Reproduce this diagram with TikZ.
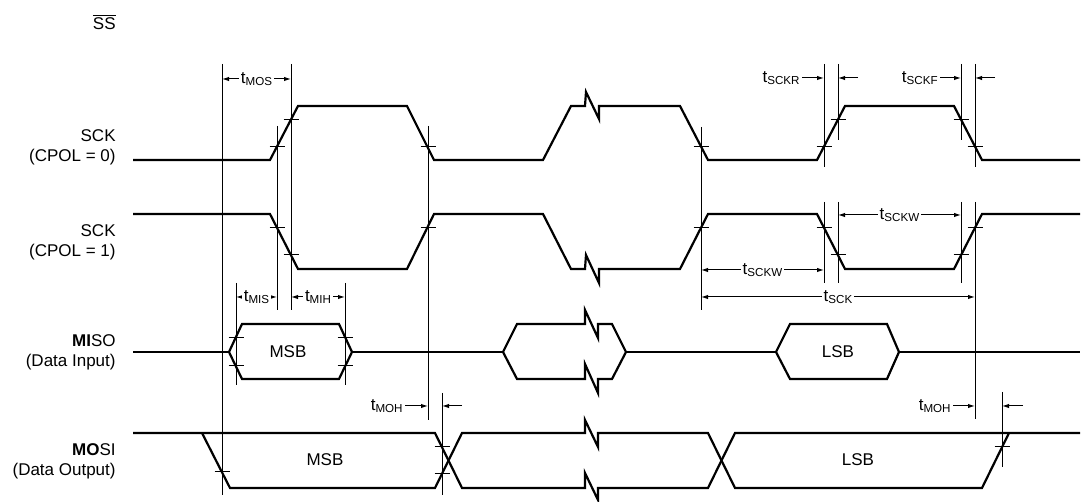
\documentclass[tikz,border=0pt]{standalone}
\usepackage{fontspec}
\setmainfont{Liberation Sans}
\usepackage{tikz}
\usetikzlibrary{positioning,arrows.meta}

\newcommand{\tsub}[1]{t\raisebox{-1.2pt}{\fontsize{5.8}{6}\selectfont #1}}

\begin{document}
\begin{tikzpicture}[
  x=0.5pt, y=-0.5pt,
  wave/.style={line width=1.1pt, line join=miter},
  guide/.style={line width=0.5pt},
  tick/.style={line width=0.5pt},
  dim/.style={{Latex[length=3.5pt,width=2.2pt]}-{Latex[length=3.5pt,width=2.2pt]}, line width=0.5pt},
  arrow/.style={-{Latex[length=3.5pt,width=2.2pt]}, line width=0.5pt},
  sig/.style={font=\fontsize{8.5}{10}\selectfont, align=right, anchor=east, inner sep=0pt},
  tlabel/.style={font=\fontsize{8.5}{10}\selectfont, fill=white, inner sep=1pt},
  data/.style={font=\fontsize{8.5}{10}\selectfont}
]

\fill[white] (0,0) rectangle (1083,501);

% Signal names
\node[sig] (ss) at (116,22) {$\overline{\mbox{SS}}$};
\node[sig] (sck0) at (116,147) {SCK\\(CPOL = 0)};
\node[sig] (sck1) at (116,242) {SCK\\(CPOL = 1)};
\node[sig] (miso) at (116,352) {\textbf{MI}SO\\(Data Input)};
\node[sig] (mosi) at (116,461) {\textbf{MO}SI\\(Data Output)};

% SCK, CPOL = 0
\draw[wave] (133,160) -- (270,160) -- (298,106) -- (407,106) -- (434,160) -- (543,160) -- (571,106)
  -- (585,106) -- (586,92) -- (599,119) -- (599,106) -- (680,106) -- (708,160) -- (817,160)
  -- (845,106) -- (954,106) -- (982,160) -- (1080,160);

% SCK, CPOL = 1
\draw[wave] (133,214) -- (270,214) -- (298,269) -- (407,269) -- (434,214) -- (543,214) -- (571,269)
  -- (585,269) -- (586,255) -- (599,283) -- (599,269) -- (680,269) -- (708,214) -- (817,214)
  -- (845,269) -- (954,269) -- (982,214) -- (1080,214);

% MISO
\draw[wave] (133,352) -- (229,352);
\draw[wave] (229,352) -- (242,324) -- (339,324) -- (352,352) -- (339,379) -- (242,379) -- cycle;
\draw[wave] (352,352) -- (503,352);
\draw[wave] (503,352) -- (517,324) -- (585,324) -- (585,310) -- (598,338) -- (598,324) -- (612,324)
  -- (626,352) -- (612,379) -- (598,379) -- (598,393) -- (585,364) -- (585,379) -- (517,379) -- cycle;
\draw[wave] (626,352) -- (776,352);
\draw[wave] (776,352) -- (790,324) -- (887,324) -- (899,352) -- (887,379) -- (790,379) -- cycle;
\draw[wave] (899,352) -- (1080,352);

% MOSI
\draw[wave] (133,433) -- (435,433) -- (462,488) -- (585,488) -- (585,473) -- (598,500) -- (598,488)
  -- (708,488) -- (735,433) -- (1080,433);
\draw[wave] (202,433) -- (230,488) -- (435,488) -- (462,433) -- (585,433) -- (585,420) -- (598,447)
  -- (598,433) -- (708,433) -- (735,488) -- (982,488) -- (1009,433);

\node[data] (msbIn) at (288,352) {MSB};
\node[data] (lsbIn) at (838,352) {LSB};
\node[data] (msbOut) at (325,460) {MSB};
\node[data] (lsbOut) at (858,460) {LSB};

% Timing guides
\foreach \x/\a/\b in {222/64/495, 277/126/310, 291/64/310, 428/126/420, 236/283/385, 345/283/385,
    442/393/495, 701/127/310, 824/64/167, 838/64/140, 961/64/140, 975/64/167,
    824/202/283, 838/202/283, 961/202/283, 975/202/419, 1002/392/467}
  \draw[guide] (\x,\a) -- (\x,\b);

% Edge marks
\foreach \x/\y in {277/146.5, 291/119.5, 428/146.5, 701/146.5, 824/146.5, 838/119.5, 961/119.5, 975/146.5,
    277/228, 291/255, 428/228, 701/228, 824/228, 838/255, 961/255, 975/228,
    236/338, 236/366, 345/338, 345/366, 222/472, 442/447, 442/474, 1002/447}
  \draw[tick] (\x,\y) ++(-7.5,0) -- ++(15,0);

% Two-sided timings
\coordinate (mosA) at (222,79);  \coordinate (mosB) at (291,79);
\coordinate (misA) at (236,297); \coordinate (misB) at (277,297);
\coordinate (mihA) at (291,297); \coordinate (mihB) at (345,297);
\coordinate (wlA) at (701,270);  \coordinate (wlB) at (824,270);
\coordinate (whA) at (838,215);  \coordinate (whB) at (961,215);
\coordinate (sckA) at (701,297); \coordinate (sckB) at (975,297);

\draw[dim] (mosA) -- node[tlabel] (tmos) {\tsub{MOS}} (mosB);
\draw[dim] (misA) -- node[tlabel] (tmis) {\tsub{MIS}} (misB);
\draw[dim] (mihA) -- node[tlabel] (tmih) {\tsub{MIH}} (mihB);
\draw[dim] (wlA) -- node[tlabel] (tsckwA) {\tsub{SCKW}} (wlB);
\draw[dim] (whA) -- node[tlabel] (tsckwB) {\tsub{SCKW}} (whB);
\draw[dim] (sckA) -- node[tlabel] (tsck) {\tsub{SCK}} (sckB);

% One-sided timings
\node[tlabel, anchor=east] (tsckr) at (802,78) {\tsub{SCKR}};
\node[tlabel, anchor=east] (tsckf) at (940,78) {\tsub{SCKF}};
\node[tlabel, anchor=east] (tmohA) at (405,406) {\tsub{MOH}};
\node[tlabel, anchor=east] (tmohB) at (953,406) {\tsub{MOH}};

\coordinate (rA) at (824,78);  \coordinate (rB) at (838,78);  \coordinate (rC) at (858,78);
\coordinate (fA) at (961,78);  \coordinate (fB) at (975,78);  \coordinate (fC) at (995,78);
\coordinate (hA) at (428,406); \coordinate (hB) at (442,406); \coordinate (hC) at (462,406);
\coordinate (kA) at (975,406); \coordinate (kB) at (1002,406); \coordinate (kC) at (1023,406);

\draw[arrow] (tsckr) -- (rA);
\draw[arrow] (rC) -- (rB);
\draw[arrow] (tsckf) -- (fA);
\draw[arrow] (fC) -- (fB);
\draw[arrow] (tmohA) -- (hA);
\draw[arrow] (hC) -- (hB);
\draw[arrow] (tmohB) -- (kA);
\draw[arrow] (kC) -- (kB);

\end{tikzpicture}
\end{document}
